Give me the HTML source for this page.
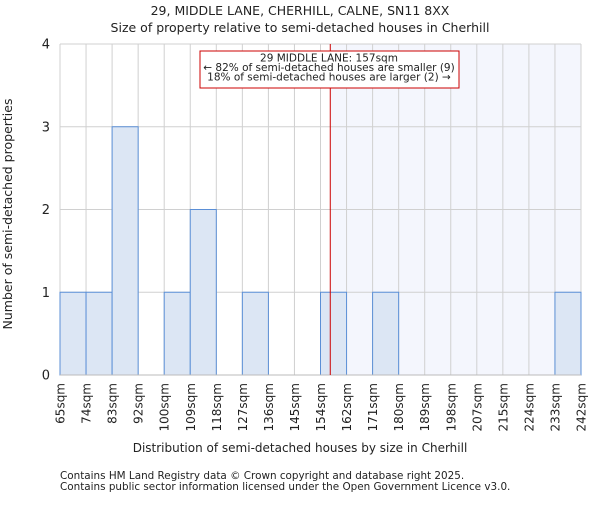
<!DOCTYPE html>
<html><head><meta charset="utf-8"><style>
body{margin:0;background:#fff;}
svg text{font-family:"DejaVu Sans","Liberation Sans",sans-serif;fill:#222;}
</style></head><body>
<svg id="chart" width="600" height="500" xmlns="http://www.w3.org/2000/svg">
<text x="300" y="15" text-anchor="middle" font-size="12.5">29, MIDDLE LANE, CHERHILL, CALNE, SN11 8XX</text>
<text x="300" y="32" text-anchor="middle" font-size="12.5">Size of property relative to semi-detached houses in Cherhill</text>
<g id="grid"></g><g id="shade"></g><g id="bars"></g><g id="axes"></g>
<text x="300" y="452" text-anchor="middle" font-size="12">Distribution of semi-detached houses by size in Cherhill</text>
<text transform="translate(12,214) rotate(-90)" text-anchor="middle" font-size="12.5">Number of semi-detached properties</text>
<text x="60" y="479" font-size="10.4">Contains HM Land Registry data © Crown copyright and database right 2025.</text>
<text x="60" y="490" font-size="10.4">Contains public sector information licensed under the Open Government Licence v3.0.</text>
</svg>
<script>
const tickLabels=["65sqm","74sqm","83sqm","92sqm","100sqm","109sqm","118sqm","127sqm","136sqm","145sqm","154sqm","162sqm","171sqm","180sqm","189sqm","198sqm","207sqm","215sqm","224sqm","233sqm","242sqm"];
const tickValues=[65,74,83,92,100,109,118,127,136,145,154,162,171,180,189,198,207,215,224,233,242];
const counts=[1,1,3,0,1,2,0,1,0,0,1,0,1,0,0,0,0,0,0,1];
const yTicks=[0,1,2,3,4];
const subjectSize=157;
const annotationLines=["29 MIDDLE LANE: 157sqm","← 82% of semi-detached houses are smaller (9)","18% of semi-detached houses are larger (2) →"];
const X0=60,X1=581,Y0=375,Y1=44,YMAX=4;
const NS="http://www.w3.org/2000/svg";
const bw=(X1-X0)/counts.length;
const xi=i=>X0+i*bw;
const y=v=>Y0-(v/YMAX)*(Y0-Y1);
function xv(v){for(let i=0;i<tickValues.length-1;i++){if(v<=tickValues[i+1])return xi(i+(v-tickValues[i])/(tickValues[i+1]-tickValues[i]));}return X1;}
function mk(tag,attrs,parent){const e=document.createElementNS(NS,tag);for(const k in attrs)e.setAttribute(k,attrs[k]);document.getElementById(parent).appendChild(e);return e;}
tickLabels.forEach((t,i)=>{
 const l=mk('line',{x1:xi(i),x2:xi(i),y1:Y1,y2:Y0,stroke:'#d0d0d0','stroke-width':1},'grid');
 
 
 const tx=mk('text',{transform:`translate(${xi(i)+4.5},${Y0+8}) rotate(-90)`,'text-anchor':'end','font-size':'12'},'axes');
 tx.textContent=t;
 
 
});
yTicks.forEach(v=>{
 const l=mk('line',{x1:X0,x2:X1,y1:y(v),y2:y(v),stroke:'#d0d0d0','stroke-width':1},'grid');
 
 
 const tx=mk('text',{x:X0-10,y:y(v)+4.5,'text-anchor':'end','font-size':'13'},'axes');
 tx.textContent=v;
 
 
});
const sx=xv(subjectSize);
const sh=mk('rect',{x:sx,y:Y1,width:X1-sx,height:Y0-Y1,fill:'#f4f6fd'},'shade');


document.getElementById('chart').insertBefore(document.getElementById('shade'),document.getElementById('grid'));
counts.forEach((c,i)=>{
 if(c<=0)return;
 const r=mk('rect',{x:xi(i),y:y(c),width:bw,height:Y0-y(c),fill:'#dce6f4',stroke:'#5b8fd6','stroke-width':1},'bars');
 
 
});
const ax=mk('line',{x1:X0,x2:X1,y1:Y0,y2:Y0,stroke:'#bbb','stroke-width':1},'axes');


const rl=mk('line',{x1:sx,x2:sx,y1:Y1,y2:Y0,stroke:'#cc0000','stroke-width':1},'axes');


const box=mk('rect',{x:200,y:51,width:259,height:37,fill:'#fff',stroke:'#cc0000','stroke-width':1},'axes');


annotationLines.forEach((s,i)=>{
 const t=mk('text',{x:329,y:61.5+i*9.5,'text-anchor':'middle','font-size':'10.5'},'axes');
 t.textContent=s;
 
 
});
</script>
</body></html>
